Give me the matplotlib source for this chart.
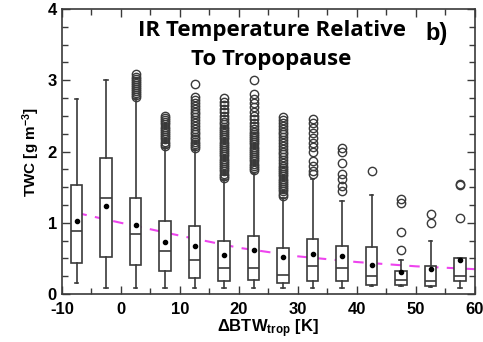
import matplotlib
matplotlib.use("Agg")
import matplotlib.pyplot as plt
from matplotlib.ticker import MultipleLocator

# bin centres of IR temperature relative to tropopause [K]
centers = [-7.5, -2.5, 2.5, 7.5, 12.5, 17.5, 22.5, 27.5, 32.5, 37.5, 42.5, 47.5, 52.5, 57.5]

# box statistics (TWC, g m-3)
whislo = [0.15, 0.09, 0.09, 0.09, 0.09, 0.09, 0.09, 0.09, 0.09, 0.09, 0.11, 0.11, 0.10, 0.09]
q1     = [0.43, 0.52, 0.41, 0.33, 0.23, 0.19, 0.20, 0.16, 0.18, 0.19, 0.13, 0.13, 0.11, 0.18]
med    = [0.88, 1.35, 0.85, 0.60, 0.48, 0.36, 0.36, 0.27, 0.40, 0.36, 0.26, 0.20, 0.19, 0.26]
q3     = [1.53, 1.91, 1.35, 1.02, 0.96, 0.75, 0.81, 0.65, 0.77, 0.67, 0.66, 0.32, 0.40, 0.51]
whishi = [2.74, 3.00, 2.73, 2.05, 2.02, 1.60, 1.70, 1.35, 1.62, 1.30, 1.39, 0.48, 0.74, 0.51]
means  = [1.02, 1.24, 0.97, 0.73, 0.67, 0.55, 0.62, 0.52, 0.56, 0.53, 0.41, 0.31, 0.35, 0.48]

fliers = [
    [],
    [],
    [2.76, 2.79, 2.82, 2.85, 2.87, 2.90, 2.93, 2.96, 2.99, 3.02, 3.05, 3.08],
    [2.08, 2.11, 2.14, 2.17, 2.20, 2.23, 2.26, 2.29, 2.32, 2.35, 2.38, 2.41, 2.44, 2.47, 2.50],
    [2.05, 2.08, 2.11, 2.14, 2.17, 2.20, 2.24, 2.28, 2.32, 2.36, 2.40, 2.44, 2.48,
     2.52, 2.56, 2.60, 2.64, 2.68, 2.72, 2.77, 2.95],
    [1.63, 1.66, 1.69, 1.72, 1.75, 1.78, 1.81, 1.84, 1.87, 1.90, 1.93, 1.96, 1.99, 2.02,
     2.05, 2.08, 2.11, 2.14, 2.17, 2.20, 2.23, 2.26, 2.29, 2.32, 2.35, 2.38, 2.41,
     2.45, 2.50, 2.55, 2.60, 2.65, 2.70, 2.75],
    [1.74, 1.77, 1.80, 1.83, 1.86, 1.89, 1.92, 1.95, 1.98, 2.01, 2.04, 2.07, 2.10, 2.13,
     2.16, 2.19, 2.22, 2.25, 2.28, 2.32, 2.36, 2.40, 2.45, 2.50, 2.55, 2.62, 2.68,
     2.74, 2.80, 3.00],
    [1.38, 1.41, 1.44, 1.47, 1.50, 1.53, 1.56, 1.59, 1.62, 1.65, 1.68, 1.71, 1.74, 1.77,
     1.80, 1.84, 1.88, 1.92, 1.96, 2.00, 2.04, 2.08, 2.12, 2.16, 2.20, 2.24, 2.28,
     2.32, 2.36, 2.40, 2.44, 2.48],
    [1.68, 1.72, 1.80, 1.86, 2.00, 2.07, 2.12, 2.19, 2.26, 2.33, 2.40, 2.46],
    [1.44, 1.52, 1.61, 1.68, 1.84, 2.00, 2.05],
    [1.73],
    [0.62, 0.87, 1.28, 1.33],
    [1.00, 1.12],
    [1.07, 1.53, 1.55],
]

# fitted trend (dashed magenta)
fit_x = [-7.5, 0, 10, 20, 30, 40, 50, 60]
fit_y = [1.14, 1.00, 0.82, 0.65, 0.53, 0.45, 0.39, 0.35]

plt.rcParams['font.family'] = ['Liberation Sans', 'DejaVu Sans']
plt.rcParams['axes.unicode_minus'] = False
plt.rcParams['mathtext.fontset'] = 'custom'
plt.rcParams['mathtext.rm'] = 'Liberation Sans:bold'
plt.rcParams['mathtext.bf'] = 'Liberation Sans:bold'
plt.rcParams['mathtext.default'] = 'bf'

fig = plt.figure(figsize=(4.83, 3.42), dpi=100)
ax = fig.add_axes([0.128, 0.140, 0.855, 0.834])

stats = []
for i in range(len(centers)):
    stats.append(dict(whislo=whislo[i], q1=q1[i], med=med[i], q3=q3[i],
                      whishi=whishi[i], mean=means[i], fliers=fliers[i]))

edge = '#3a3a3a'
ax.bxp(stats, positions=centers, widths=2.0, showmeans=True, patch_artist=True,
       manage_ticks=False,
       boxprops=dict(facecolor='white', edgecolor=edge, linewidth=1.2),
       medianprops=dict(color=edge, linewidth=1.2),
       whiskerprops=dict(color=edge, linewidth=1.2),
       capprops=dict(color=edge, linewidth=1.2),
       capwidths=0.6,
       meanprops=dict(marker='o', markerfacecolor='black', markeredgecolor='black',
                      markersize=3),
       flierprops=dict(marker='o', markerfacecolor='none', markeredgecolor=edge,
                       markersize=6, markeredgewidth=1.0))

ax.plot(fit_x, fit_y, color='#ee44ee', linestyle=(0, (5, 4)), linewidth=1.5, zorder=1)

ax.set_xlim(-10, 60)
ax.set_ylim(0, 4)
ax.xaxis.set_major_locator(MultipleLocator(10))
ax.xaxis.set_minor_locator(MultipleLocator(5))
ax.yaxis.set_major_locator(MultipleLocator(1))
ax.yaxis.set_minor_locator(MultipleLocator(0.25))
ax.tick_params(which='both', direction='in', top=True, right=True, colors=edge,
               labelcolor='black', labelsize=12)
ax.tick_params(axis='x', which='major', pad=6)
ax.tick_params(which='major', length=6, width=1.0)
ax.tick_params(which='minor', length=4, width=1.0)
for lab in ax.get_xticklabels() + ax.get_yticklabels():
    lab.set_fontweight('bold')
for s in ax.spines.values():
    s.set_color(edge)
    s.set_linewidth(1.2)

ax.set_xlabel(r'$\Delta$BTW$_{\mathbf{trop}}$ [K]', fontsize=12, fontweight='bold', labelpad=0)
ax.set_ylabel(r'TWC [g m$^{\mathbf{-3}}$]', fontsize=11, fontweight='bold', labelpad=4)

ax.text(0.508, 0.96, 'IR Temperature Relative\nTo Tropopause', transform=ax.transAxes,
        ha='center', va='top', fontsize=16, fontweight='bold', family='Open Sans',
        linespacing=1.45)
ax.text(0.935, 0.915, 'b)', transform=ax.transAxes, ha='right', va='center',
        fontsize=17, fontweight='bold')

fig.savefig('out.png', dpi=100)
